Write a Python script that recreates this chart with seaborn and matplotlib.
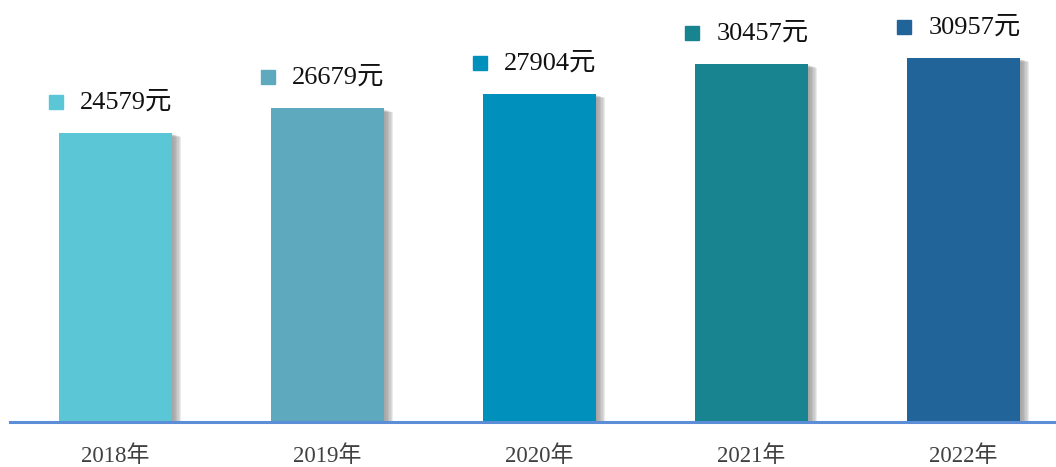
import numpy as np
import pandas as pd
import seaborn as sns
import matplotlib.pyplot as plt
import matplotlib.patheffects as pe
from matplotlib.transforms import offset_copy

# 数据
years = ['2018年', '2019年', '2020年', '2021年', '2022年']
income = [24579, 26679, 27904, 30457, 30957]
colors = ['#5BC7D6', '#5FA9BE', '#0090BC', '#17848F', '#21649A']

df = pd.DataFrame({'year': years, 'income': income})

sns.set_theme(style='white')
plt.rcParams['font.family'] = ['Liberation Serif', 'Noto Sans CJK SC']

fig = plt.figure(figsize=(10.56, 4.67), dpi=100)
ax = fig.add_axes([9.5 / 1056, 45 / 467, 1 - 9.5 / 1056, 422 / 467])

sns.barplot(data=df, x='year', y='income', hue='year', palette=colors,
            width=0.53, legend=False, ax=ax, saturation=1, zorder=3,
            linewidth=0, edgecolor='none')

# 柔和阴影（多层叠加）
shadows = [pe.SimplePatchShadow(offset=(k, -k * 0.4), shadow_rgbFace='#606060',
                                alpha=0.12) for k in (7, 6, 5, 4, 3, 2)]
for bar in ax.patches:
    bar.set_path_effects(shadows + [pe.Normal()])

# 数据标签
mk_trans = offset_copy(ax.transData, fig=fig, x=-3, y=31, units='dots')
tx_trans = offset_copy(ax.transData, fig=fig, x=21, y=31, units='dots')
for bar, v, c in zip(ax.patches, income, colors):
    x0 = bar.get_x()
    ax.plot(x0, v, marker='s', ms=9.5, color=c, transform=mk_trans,
            clip_on=False, zorder=5)
    ax.text(x0, v, f'{v}元', transform=tx_trans, ha='left', va='center',
            fontsize=19, color='#111111', zorder=5)

ax.set_xlim(-0.5, (1056 - 9.5) / 212 - 0.5)
ax.set_ylim(0, 35900)
ax.set_xlabel('')
ax.set_ylabel('')
ax.set_yticks([])
ax.tick_params(axis='x', length=0, pad=17, labelsize=16.5, labelcolor='#404040')

for s in ['top', 'right', 'left']:
    ax.spines[s].set_visible(False)
ax.spines['bottom'].set_color('#5B8ED6')
ax.spines['bottom'].set_linewidth(2.2)
ax.spines['bottom'].set_zorder(6)

fig.savefig('out.png', dpi=100)
